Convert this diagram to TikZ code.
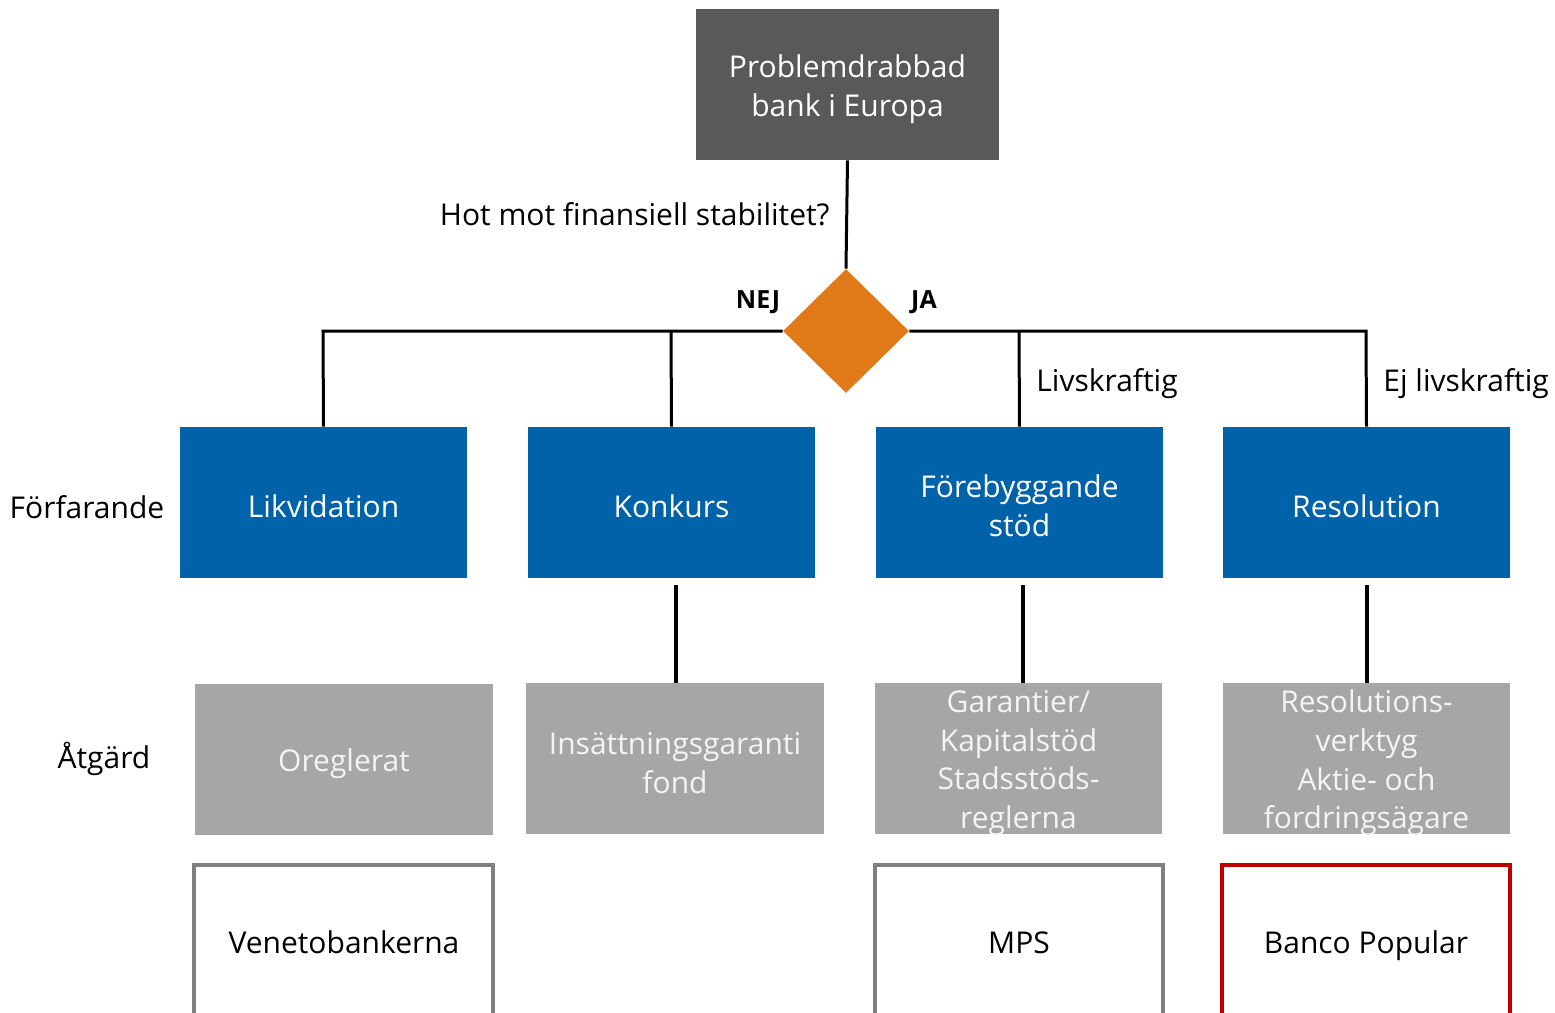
\documentclass[tikz,border=0pt]{standalone}
\usepackage{fontspec}
\setmainfont{Open Sans}
\usetikzlibrary{shapes.geometric}
\definecolor{darkbox}{HTML}{595959}
\definecolor{bluebox}{HTML}{0062A8}
\definecolor{graybox}{HTML}{A6A6A6}
\definecolor{orangedia}{HTML}{E07A18}
\definecolor{redframe}{HTML}{C00000}
\definecolor{grayframe}{HTML}{808080}
\definecolor{lighttext}{HTML}{F4F4F4}
\tikzset{
  fnt/.style={font=\fontsize{15}{19.3}\selectfont},
  topbox/.style={fnt, fill=darkbox, text=white, minimum width=151.5pt, minimum height=75.5pt, inner sep=0pt, align=center},
  procbox/.style={fnt, fill=bluebox, text=white, minimum width=143.5pt, minimum height=75.5pt, inner sep=0pt, align=center},
  actbox/.style={fnt, fill=graybox, text=lighttext, minimum height=75.5pt, inner sep=0pt, align=center},
  lbl/.style={fnt, text=black, inner sep=0pt},
  conn/.style={line width=1.5pt, black},
  thick conn/.style={line width=2pt, black},
  frame/.style={line width=2pt},
}
\begin{document}
\begin{tikzpicture}[x=0.5pt,y=-0.5pt]
\useasboundingbox (0,0) rectangle (1555,1013);
\clip (0,0) rectangle (1555,1013);
% top box
\node[topbox] (top) at (847.5,84.5) {};
\node[fnt, text=white, align=center, inner sep=0pt] (toptext) at (847.5,89) {Problemdrabbad\\bank i Europa};
% diamond
\node[diamond, fill=orangedia, minimum width=63pt, minimum height=62pt, inner sep=0pt] (dia) at (846,331) {};
\draw[conn] (top.south) -- (dia.north);
\node[lbl, anchor=east] (q) at (830,214) {Hot mot finansiell stabilitet?};
\node[lbl, font=\fontsize{12.5}{15}\bfseries\selectfont] (nej) at (758,302) {NEJ};
\node[lbl, font=\fontsize{12.5}{15}\bfseries\selectfont] (ja) at (924,302) {JA};
% procedure boxes
\node[procbox] (likv) at (323.5,502.5) {};
\node[procbox] (konk) at (671.5,502.5) {};
\node[procbox] (fore) at (1019.5,502.5) {};
\node[procbox] (reso) at (1366.5,502.5) {};
\node[lbl, text=white] (likvt) at (323.5,506) {Likvidation};
\node[lbl, text=white] (konkt) at (671.5,506) {Konkurs};
\node[lbl, text=white, align=center] (foret) at (1019.5,506) {Förebyggande\\stöd};
\node[lbl, text=white] (resot) at (1366.5,506) {Resolution};
% junction coordinates
\coordinate (jl) at (323,331);
\coordinate (jk) at (671,331);
\coordinate (jf) at (1019,331);
\coordinate (jr) at (1366,331);
\draw[conn] (dia.west) -- (jl) -- (likv.north);
\draw[conn] (jk) -- (konk.north);
\draw[conn] (dia.east) -- (jr) -- (reso.north);
\draw[conn] (jf) -- (fore.north);
\node[lbl, anchor=west] (liv) at (1036,384) {Livskraftig};
\node[lbl, anchor=west] (ejliv) at (1383,384) {Ej livskraftig};
% row labels
\node[lbl] (forf) at (87,507) {Förfarande};
\node[lbl] (atg) at (104,759) {Åtgärd};
% action boxes
\node[actbox, minimum width=149pt] (oreg) at (344,759.5) {};
\node[actbox, minimum width=149pt] (insg) at (675,758.5) {};
\node[actbox, minimum width=143.5pt] (gar) at (1018.5,758.5) {};
\node[actbox, minimum width=143.5pt] (resv) at (1366.5,758.5) {};
\node[lbl, text=lighttext] (oregt) at (344,764) {Oreglerat};
\node[lbl, text=lighttext, align=center] (insgt) at (675,763) {Insättningsgaranti\\fond};
\node[lbl, text=lighttext, align=center] (gart) at (1018.5,763) {Garantier/\\Kapitalstöd\\Stadsstöds-\\reglerna};
\node[lbl, text=lighttext, align=center] (resvt) at (1366.5,763) {Resolutions-\\verktyg\\Aktie- och\\fordringsägare};
% connectors
\draw[thick conn] (676,585) -- (insg.north -| 676,0);
\draw[thick conn] (1023,585) -- (gar.north -| 1023,0);
\draw[thick conn] (reso.south) ++(0,7) -- (resv.north);
% bottom frames
\draw[frame, grayframe] (194,1030) -- (194,865) -- (493,865) -- (493,1030);
\draw[frame, grayframe] (875,1030) -- (875,865) -- (1163,865) -- (1163,1030);
\draw[frame, redframe] (1222,1030) -- (1222,865) -- (1510,865) -- (1510,1030);
\node[lbl, anchor=base] (veneto) at (344,953) {Venetobankerna};
\node[lbl, anchor=base] (mps) at (1019,953) {MPS};
\node[lbl, anchor=base] (banco) at (1366,953) {Banco Popular};
\end{tikzpicture}
\end{document}
